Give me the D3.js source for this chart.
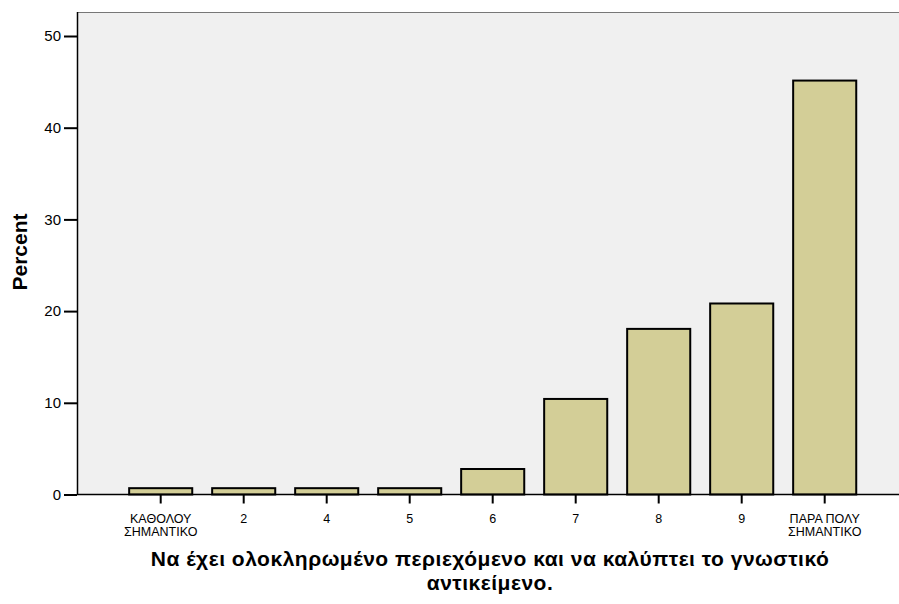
<!DOCTYPE html>
<html><head><meta charset="utf-8">
<script src="https://cdn.jsdelivr.net/npm/d3@7"></script>
<style>
html,body{margin:0;padding:0;background:#fff;}
svg{display:block;font-family:"Liberation Sans",Arial,sans-serif;}
</style></head>
<body>
<svg id="c" width="899" height="604"></svg>
<script>
const categories = [["ΚΑΘΟΛΟΥ","ΣΗΜΑΝΤΙΚΟ"],["2"],["4"],["5"],["6"],["7"],["8"],["9"],["ΠΑΡΑ ΠΟΛΥ","ΣΗΜΑΝΤΙΚΟ"]];
const percentValues = [0.69, 0.69, 0.69, 0.69, 2.78, 10.42, 18.06, 20.83, 45.14];
const yTicks = [0, 10, 20, 30, 40, 50];
const xTitleLines = ["Να έχει ολοκληρωμένο περιεχόμενο και να καλύπτει το γνωστικό", "αντικείμενο."];
const yTitle = "Percent";

const svg = d3.select("#c");
const plot = {left: 77, right: 899, top: 12, bottom: 494.5};
const keys = categories.map((c, i) => String(i));

const y = d3.scaleLinear().domain([0, 50]).range([plot.bottom, 36]);
const x = d3.scaleBand().domain(keys).range([119.2, 866.2]).paddingInner(0.24).paddingOuter(0.12);

// background
svg.append("rect").attr("x", plot.left).attr("y", plot.top)
  .attr("width", plot.right - plot.left).attr("height", plot.bottom - plot.top)
  .attr("fill", "#f0f0f0");
svg.append("line").attr("x1", plot.left).attr("x2", plot.right).attr("y1", plot.top + 0.5).attr("y2", plot.top + 0.5)
  .attr("stroke", "#777").attr("stroke-width", 1);

// bars
svg.append("g").selectAll("rect").data(percentValues).join("rect")
  .attr("x", (d, i) => x(keys[i]))
  .attr("y", d => y(d))
  .attr("width", x.bandwidth())
  .attr("height", d => y(0) - y(d))
  .attr("fill", "#d3ce97")
  .attr("stroke", "#000")
  .attr("stroke-width", 2);

// y axis
const yAxis = d3.axisLeft(y).tickValues(yTicks).tickSize(13).tickPadding(3).tickFormat(d3.format("d"));
const gy = svg.append("g").attr("transform", `translate(${plot.left},0)`).call(yAxis);
gy.select(".domain").remove();
gy.selectAll(".tick line").attr("stroke", "#000").attr("stroke-width", 2);
gy.selectAll(".tick text").attr("font-size", 15).attr("fill", "#000").attr("font-family", "Liberation Sans, Arial, sans-serif");
svg.append("line").attr("x1", plot.left + 0.5).attr("x2", plot.left + 0.5).attr("y1", plot.top).attr("y2", plot.bottom)
  .attr("stroke", "#000").attr("stroke-width", 1.5);

// x axis
const xAxis = d3.axisBottom(x).tickSize(9).tickFormat(() => "");
const gx = svg.append("g").attr("transform", `translate(0,${plot.bottom})`).call(xAxis);
gx.select(".domain").remove();
gx.selectAll(".tick line").attr("stroke", "#000").attr("stroke-width", 2);
svg.append("line").attr("x1", plot.left).attr("x2", plot.right).attr("y1", plot.bottom).attr("y2", plot.bottom)
  .attr("stroke", "#000").attr("stroke-width", 1.5);

gx.selectAll(".tick").each(function(d, i) {
  const t = d3.select(this).append("text").attr("fill", "#000").attr("font-size", 12.5)
    .attr("text-anchor", "middle").attr("font-family", "Liberation Sans, Arial, sans-serif");
  categories[i].forEach((line, j) => {
    t.append("tspan").attr("x", 0).attr("y", 28 + j * 13.5).text(line);
  });
});

// axis titles
svg.append("text").attr("transform", `translate(27,252) rotate(-90)`)
  .attr("text-anchor", "middle").attr("font-size", 21).attr("font-weight", "bold").attr("fill", "#000")
  .text(yTitle);
xTitleLines.forEach((l, j) => svg.append("text").attr("text-anchor", "middle")
  .attr("font-size", 21).attr("font-weight", "bold").attr("fill", "#000")
  .attr("letter-spacing", 0.5)
  .attr("x", 490).attr("y", 566 + j * 23.5).text(l));
</script>
</body></html>
